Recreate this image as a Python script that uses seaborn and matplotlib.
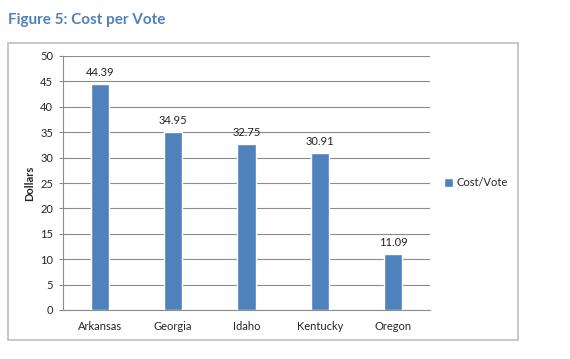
import pandas as pd
import matplotlib.pyplot as plt
import seaborn as sns
from matplotlib.patches import Rectangle

# data
states = ['Arkansas', 'Georgia', 'Idaho', 'Kentucky', 'Oregon']
cost_per_vote = [44.39, 34.95, 32.75, 30.91, 11.09]
yticks = [0, 5, 10, 15, 20, 25, 30, 35, 40, 45, 50]

df = pd.DataFrame({'State': states, 'Cost/Vote': cost_per_vote})

sns.set_style('white')
plt.rcParams['font.family'] = ['Lato', 'DejaVu Sans']

bar_blue = '#4F81BD'
grid_gray = '#8C8C8C'

fig = plt.figure(figsize=(5.7, 3.59), dpi=100)
ax = fig.add_axes([63 / 570, 1 - 310 / 359, (430 - 63) / 570, (310 - 56) / 359])

sns.barplot(data=df, x='State', y='Cost/Vote', color=bar_blue, width=0.25,
            saturation=1, ax=ax, label='Cost/Vote', zorder=3)

for i, v in enumerate(cost_per_vote):
    ax.text(i, v + 1.2, '{:.2f}'.format(v), ha='center', va='bottom',
            fontsize=8, color='#222222')

ax.set_ylim(0, 50)
ax.set_yticks(yticks)
ax.set_xlim(-0.5, len(states) - 0.5)
ax.yaxis.grid(True, color=grid_gray, lw=0.8, zorder=0)
ax.set_axisbelow(True)
ax.tick_params(axis='y', labelsize=8, length=3, color=grid_gray, left=True, pad=4)
ax.tick_params(axis='x', labelsize=8, length=0, pad=8)
for s in ['top', 'right']:
    ax.spines[s].set_visible(False)
for s in ['left', 'bottom']:
    ax.spines[s].set_color(grid_gray)
    ax.spines[s].set_linewidth(0.8)
ax.set_xlabel('')
ax.set_ylabel('Dollars', fontsize=8, fontweight='bold', labelpad=4)

leg = ax.legend(loc='center left', bbox_to_anchor=(1.012, 0.5), frameon=False,
                fontsize=8, handlelength=0.8, handleheight=0.8, handletextpad=0.3)

# outer chart frame
fig.patches.append(Rectangle((8 / 570, 1 - 340 / 359), 510 / 570, 297 / 359,
                             transform=fig.transFigure, fill=False,
                             edgecolor='#BFBFBF', lw=1.2))

fig.text(8 / 570, 1 - 20 / 359, 'Figure 5: Cost per Vote', fontsize=11,
         fontweight='bold', color=bar_blue, va='center', ha='left')

fig.savefig('out.png', dpi=100)
